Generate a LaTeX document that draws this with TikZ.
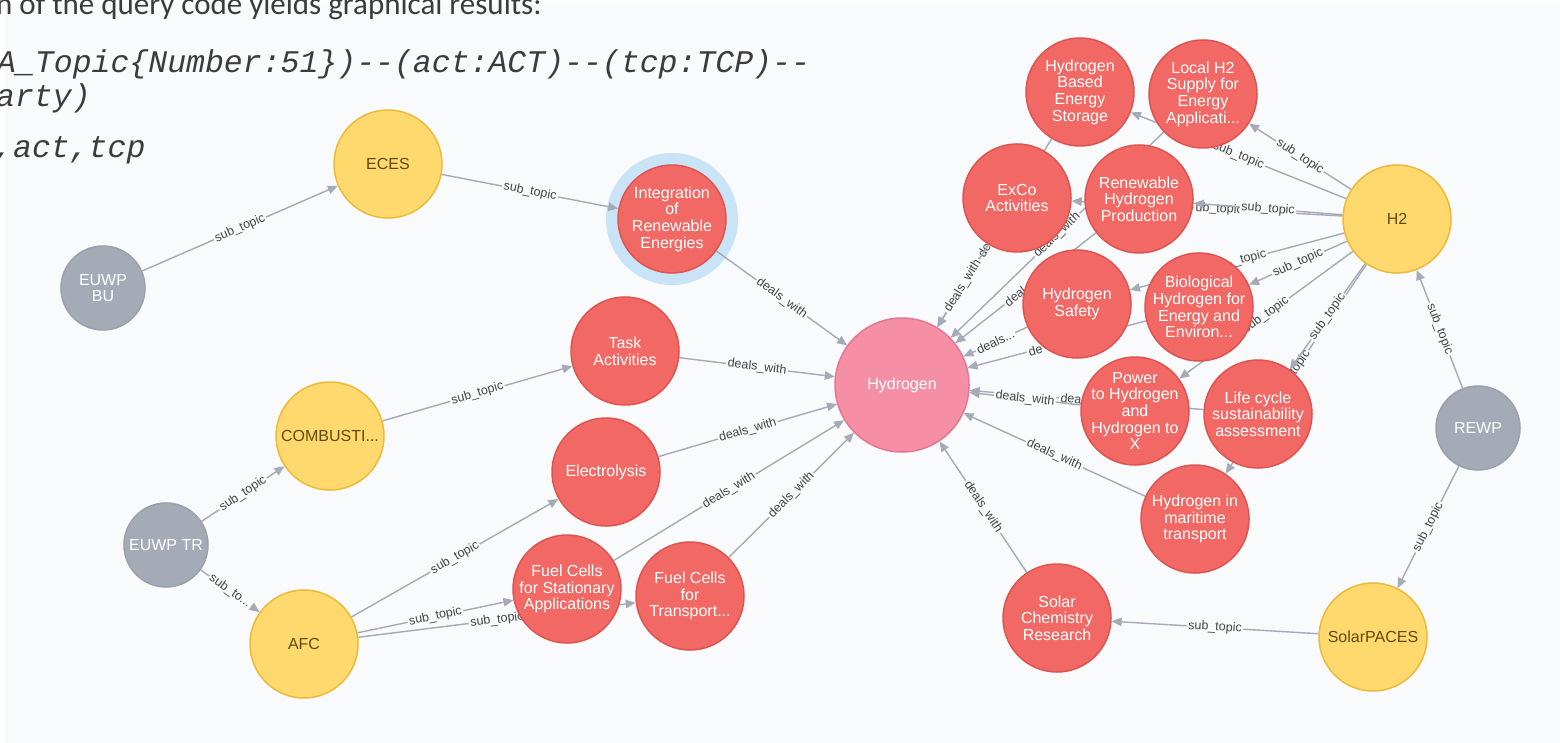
\documentclass[tikz,border=0pt]{standalone}
\usepackage{fontspec}
\setmainfont{Liberation Sans}
\newfontfamily\codefont{Liberation Mono}
\newfontfamily\docfont{Carlito}
\usetikzlibrary{arrows.meta}
\pgfdeclarelayer{canvas}
\pgfdeclarelayer{edges}
\pgfsetlayers{canvas,edges,main}
\definecolor{bgc}{RGB}{248,250,252}
\definecolor{edgec}{RGB}{165,171,182}
\definecolor{labc}{RGB}{68,68,68}
\definecolor{redf}{RGB}{242,104,100}
\definecolor{redd}{RGB}{222,84,80}
\definecolor{yelf}{RGB}{255,216,110}
\definecolor{yeld}{RGB}{237,186,57}
\definecolor{grayf}{RGB}{165,171,182}
\definecolor{grayd}{RGB}{154,161,172}
\definecolor{pinkf}{RGB}{245,143,166}
\definecolor{pinkd}{RGB}{230,118,146}
\definecolor{haloc}{RGB}{202,228,247}
\definecolor{yeltext}{RGB}{96,74,14}
\definecolor{doctext}{RGB}{60,60,60}
\newcommand\dd{\mbox{-}\mbox{-}}
\begin{document}
\begin{tikzpicture}[x=1pt,y=-1pt,
  basenode/.style={circle, inner sep=0pt, line width=1.5pt},
  rnode/.style={basenode, minimum size=108pt, fill=redf, draw=redd},
  ynode/.style={basenode, minimum size=108pt, fill=yelf, draw=yeld},
  gnode/.style={basenode, minimum size=84pt, fill=grayf, draw=grayd},
  pnode/.style={basenode, minimum size=134pt, fill=pinkf, draw=pinkd},
  wtext/.style={align=center, text=white, inner sep=0pt, font=\fontsize{16}{16.7}\selectfont},
  ytext/.style={align=center, text=yeltext, inner sep=0pt, font=\fontsize{16}{16.7}\selectfont},
  edge/.style={draw=edgec, line width=1.4pt, -{Triangle[length=10pt,width=8.5pt]}},
  elab/.style={sloped, fill=bgc, inner sep=1.5pt, text=labc, font=\fontsize{12.5}{13}\selectfont},
  doc/.style={anchor=base west, inner sep=0pt, text=doctext},
  codetext/.style={doc, font=\codefont\itshape\fontsize{31.5}{32}\selectfont}]
\useasboundingbox (0,0) rectangle (1560,743);
\begin{pgfonlayer}{canvas}
\fill[white] (0,0) rectangle (1560,743);
\fill[bgc] (5,4) rectangle (1560,743);
\end{pgfonlayer}

% document text
\node[doc, font=\docfont\fontsize{31}{31}\selectfont] (doc1) at (-4,15) {n of the query code yields graphical results:};
\node[codetext] (code1) at (-3,73) {A\_Topic\{Number:51\})\dd(act:ACT)\dd(tcp:TCP)\dd};
\node[codetext] (code2) at (-4,107) {arty)};
\node[codetext] (code3) at (-6,158) {,act,tcp};

% nodes
\node[ynode, label={[ytext]center:{ECES}}] (eces) at (388,164) {};
\node[gnode, label={[wtext]center:{EUWP\\BU}}] (bu) at (103,288) {};
\node[rnode, label={[wtext]center:{Integration\\of\\Renewable\\Energies}}] (integ) at (672,219) {};
\node[rnode, label={[wtext]center:{Task\\Activities}}] (task) at (625,351) {};
\node[pnode, label={[wtext]center:{Hydrogen}}] (hyd) at (902,385) {};
\node[ynode, label={[ytext]center:{COMBUSTI...}}] (comb) at (330,436) {};
\node[rnode, label={[wtext]center:{Electrolysis}}] (elec) at (606,472) {};
\node[gnode, label={[wtext]center:{EUWP TR}}] (tr) at (166,545) {};
\node[ynode, label={[ytext]center:{AFC}}] (afc) at (304,644) {};
\node[rnode, label={[wtext]center:{Fuel Cells\\for Stationary\\Applications}}] (fcs) at (567,589) {};
\node[rnode, label={[wtext]center:{Fuel Cells\\for\\Transport...}}] (fct) at (690,596) {};
\node[rnode, label={[wtext]center:{ExCo\\Activities}}] (exco) at (1017,198) {};
\node[rnode, label={[wtext]center:{Hydrogen\\Based\\Energy\\Storage}}] (hbes) at (1080,92) {};
\node[rnode, label={[wtext]center:{Local H2\\Supply for\\Energy\\Applicati...}}] (local) at (1203,94) {};
\node[rnode, label={[wtext]center:{Renewable\\Hydrogen\\Production}}] (rhp) at (1139,199) {};
\node[ynode, label={[ytext]center:{H2}}] (h2) at (1397,219) {};
\node[rnode, label={[wtext]center:{Hydrogen\\Safety}}] (safety) at (1077,304) {};
\node[rnode, label={[wtext]center:{Biological\\Hydrogen for\\Energy and\\Environ...}}] (bio) at (1199,307) {};
\node[rnode, label={[wtext]center:{Power\\to Hydrogen\\and\\Hydrogen to\\X}}] (power) at (1135,411) {};
\node[rnode, label={[wtext]center:{Life cycle\\sustainability\\assessment}}] (life) at (1258,414) {};
\node[rnode, label={[wtext]center:{Hydrogen in\\maritime\\transport}}] (mar) at (1195,519) {};
\node[gnode, label={[wtext]center:{REWP}}] (rewp) at (1478,428) {};
\node[rnode, label={[wtext]center:{Solar\\Chemistry\\Research}}] (solar) at (1057,618) {};
\node[ynode, label={[ytext]center:{SolarPACES}}] (paces) at (1373,637) {};

\begin{pgfonlayer}{edges}
\fill[haloc] (integ.center) circle[radius=66pt];
\draw[edge] (bu) -- node[elab]{sub\_topic} (eces);
\draw[edge] (eces) -- node[elab]{sub\_topic} (integ);
\draw[edge] (integ) -- node[elab]{deals\_with} (hyd);
\draw[edge] (comb) -- node[elab]{sub\_topic} (task);
\draw[edge] (task) -- node[elab]{deals\_with} (hyd);
\draw[edge] (tr) -- node[elab]{sub\_topic} (comb);
\draw[edge] (tr) -- node[elab]{sub\_to...} (afc);
\draw[edge] (afc) -- node[elab]{sub\_topic} (elec);
\draw[edge] (afc) -- node[elab]{sub\_topic} (fcs);
\draw[edge] (afc) -- node[elab]{sub\_topic} (fct);
\draw[edge] (elec) -- node[elab]{deals\_with} (hyd);
\draw[edge] (fcs) -- node[elab]{deals\_with} (hyd);
\draw[edge] (fct) -- node[elab]{deals\_with} (hyd);
\draw[edge] (solar) -- node[elab]{deals\_with} (hyd);
\draw[edge] (paces) -- node[elab]{sub\_topic} (solar);
\draw[edge] (rewp) -- node[elab]{sub\_topic} (h2);
\draw[edge] (rewp) -- node[elab]{sub\_topic} (paces);
\draw[edge] (h2) -- node[elab]{sub\_topic} (local);
\draw[edge] (h2) -- node[elab]{sub\_topic} (hbes);
\draw[edge] (h2) -- node[elab, pos=0.455]{ub\_topic} (exco);
\draw[edge] (h2) -- node[elab]{sub\_topic} (rhp);
\draw[edge] (h2) -- node[elab, pos=0.44]{\_topic} (safety);
\draw[edge] (h2) -- node[elab]{sub\_topic} (bio);
\draw[edge] (h2) -- node[elab]{sub\_topic} (power);
\draw[edge] (h2) -- node[elab, pos=0.47]{topic} (mar);
\draw[edge] (h2) -- node[elab]{sub\_topic} (life);
\draw[edge] (hbes) -- node[elab, pos=0.59]{de} (hyd);
\draw[edge] (exco) -- node[elab]{deals\_with} (hyd);
\draw[edge] (local) -- node[elab]{deals\_with} (hyd);
\draw[edge] (rhp) -- node[elab, pos=0.575]{deal} (hyd);
\draw[edge] (bio) -- node[elab, pos=0.62]{de} (hyd);
\draw[edge] (safety) -- node[elab]{deals...} (hyd);
\draw[edge] (life) -- node[elab, pos=0.566]{dea} (hyd);
\draw[edge] (power) -- node[elab]{deals\_with} (hyd);
\draw[edge] (mar) -- node[elab]{deals\_with} (hyd);
\end{pgfonlayer}
\end{tikzpicture}
\end{document}
